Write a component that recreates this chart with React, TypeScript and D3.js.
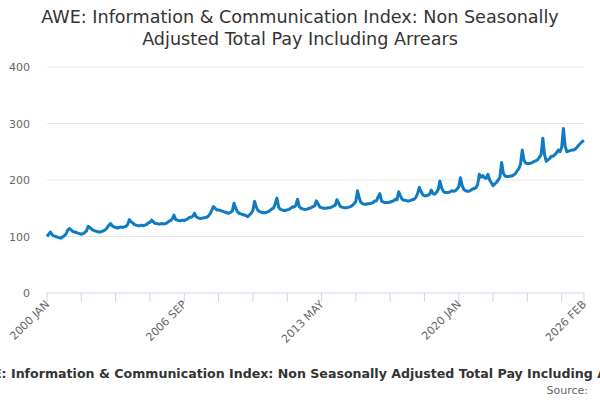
import * as d3 from "d3";

const monthNames = ["JAN", "FEB", "MAR", "APR", "MAY", "JUN", "JUL", "AUG", "SEP", "OCT", "NOV", "DEC"];
const startYear = 2000;

// index values, Jan..Dec per year
const v2000 = [100, 104, 108, 103, 101, 100, 99, 98, 97, 99, 101, 104];
const v2001 = [111, 114, 112, 109, 108, 107, 106, 105, 104, 105, 107, 110];
const v2002 = [118, 116, 113, 111, 110, 109, 108, 108, 109, 110, 112, 115];
const v2003 = [120, 123, 119, 117, 116, 115, 116, 117, 116, 117, 118, 121];
const v2004 = [130, 126, 124, 121, 120, 119, 119, 120, 119, 120, 121, 124];
const v2005 = [125, 129, 126, 123, 123, 122, 122, 123, 122, 123, 124, 127];
const v2006 = [128, 131, 138, 130, 129, 128, 128, 129, 128, 130, 131, 134];
const v2007 = [134, 136, 141, 135, 133, 132, 132, 133, 133, 134, 136, 140];
const v2008 = [146, 153, 150, 147, 147, 146, 145, 144, 143, 142, 141, 143];
const v2009 = [145, 159, 150, 144, 141, 140, 139, 138, 137, 135, 138, 141];
const v2010 = [146, 162, 152, 146, 144, 143, 142, 142, 143, 144, 146, 149];
const v2011 = [150, 158, 168, 152, 148, 147, 146, 146, 147, 148, 150, 152];
const v2012 = [152, 155, 166, 153, 150, 149, 148, 148, 149, 150, 151, 153];
const v2013 = [154, 163, 158, 152, 151, 150, 150, 150, 151, 151, 152, 154];
const v2014 = [155, 165, 159, 153, 152, 151, 151, 151, 152, 153, 155, 158];
const v2015 = [162, 181, 168, 160, 158, 157, 157, 158, 158, 159, 160, 163];
const v2016 = [163, 170, 176, 163, 161, 160, 160, 160, 161, 162, 163, 166];
const v2017 = [165, 179, 172, 166, 164, 164, 163, 163, 164, 165, 166, 169];
const v2018 = [176, 187, 180, 174, 172, 172, 173, 175, 182, 176, 175, 178];
const v2019 = [183, 198, 186, 180, 178, 178, 178, 179, 181, 180, 181, 184];
const v2020 = [188, 204, 190, 183, 181, 180, 180, 182, 184, 185, 186, 192];
const v2021 = [210, 205, 208, 204, 203, 210, 200, 195, 190, 193, 196, 200];
const v2022 = [205, 231, 212, 207, 206, 206, 207, 207, 209, 211, 216, 220];
const v2023 = [228, 253, 235, 230, 229, 229, 230, 231, 233, 234, 236, 240];
const v2024 = [245, 274, 245, 233, 236, 238, 242, 242, 245, 248, 253, 250];
const v2025 = [258, 291, 260, 250, 251, 252, 253, 253, 255, 258, 262, 265];
const v2026 = [268, 270];

const values = [
  ...v2000, ...v2001, ...v2002, ...v2003, ...v2004, ...v2005, ...v2006, ...v2007, ...v2008,
  ...v2009, ...v2010, ...v2011, ...v2012, ...v2013, ...v2014, ...v2015, ...v2016, ...v2017,
  ...v2018, ...v2019, ...v2020, ...v2021, ...v2022, ...v2023, ...v2024, ...v2025, ...v2026,
];

const yTicks = [0, 100, 200, 300, 400];
const xTickStep = 20;
const xLabelEvery = 4;

const title1 = "AWE: Information & Communication Index: Non Seasonally";
const title2 = "Adjusted Total Pay Including Arrears";
const caption = "AWE: Information & Communication Index: Non Seasonally Adjusted Total Pay Including Arrears";

const monthLabel = (i: number) => `${startYear + Math.floor(i / 12)} ${monthNames[i % 12]}`;

export default function App() {
  const width = 600, height = 400;
  const margin = { top: 67, right: 16, bottom: 107, left: 47 };
  const last = values.length - 1;

  const x = d3.scaleLinear().domain([0, last]).range([margin.left, width - margin.right]);
  const y = d3.scaleLinear().domain([0, 400]).range([height - margin.bottom, margin.top]);

  const line = d3.line<number>().x((_, i) => x(i)).y(d => y(d));

  const tickIdx = d3.range(0, last, xTickStep);
  const allTicks = [...tickIdx, last];
  const labelIdx = [...tickIdx.filter((_, k) => k % xLabelEvery === 0), last];

  const font = "'DejaVu Sans', sans-serif";

  return (
    <svg width={width} height={height} style={{ position: "absolute", left: 0, top: 0, background: "#fff" }}
      fontFamily={font}>
      <text x={300} y={23} textAnchor="middle" fontSize={17.6} fill="#333">{title1}</text>
      <text x={300} y={45} textAnchor="middle" fontSize={17.6} fill="#333">{title2}</text>

      {yTicks.map(t => (
        <g key={t}>
          {t > 0 && <line x1={margin.left} x2={width - margin.right} y1={y(t)} y2={y(t)} stroke="#e6e6e6" />}
          <text x={30} y={y(t) + 4} textAnchor="end" fontSize={11} fill="#666">{t}</text>
        </g>
      ))}

      <line x1={margin.left} x2={width - margin.right} y1={y(0)} y2={y(0)} stroke="#ccd6eb" />
      {allTicks.map(i => (
        <line key={i} x1={x(i)} x2={x(i)} y1={y(0)} y2={y(0) + 9} stroke="#ccd6eb" />
      ))}
      {labelIdx.map(i => (
        <text key={i} transform={`translate(${x(i) + 3},${y(0) + 12}) rotate(-45)`} textAnchor="end"
          fontSize={11} fill="#666">{monthLabel(i)}</text>
      ))}

      <path d={line(values) ?? ""} fill="none" stroke="#0f7bc0" strokeWidth={3} strokeLinejoin="round" />

      <text x={310} y={378} textAnchor="middle" fontSize={12.6} fontWeight="bold" fill="#333">{caption}</text>
      <text x={588} y={394} textAnchor="end" fontSize={11} fill="#666">Source:</text>
    </svg>
  );
}
